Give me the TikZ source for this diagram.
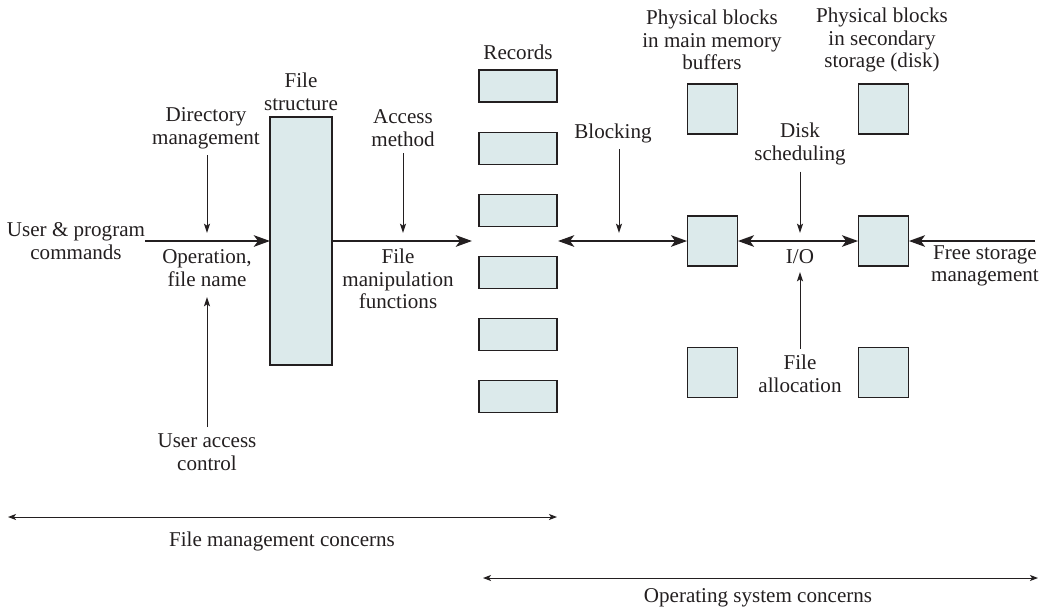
\documentclass[tikz,border=0pt]{standalone}
\usepackage{fontspec}
\setmainfont{Liberation Serif}
\usepackage{xcolor}
\usepackage{tikz}
\usetikzlibrary{arrows.meta,positioning}
\definecolor{blkFill}{HTML}{DCEAEB}
\definecolor{inkGray}{HTML}{231F20}

\begin{document}
\begin{tikzpicture}[
  x=0.75pt, y=-0.75pt,
  font=\fontsize{15.8}{17}\selectfont,
  lbl/.style={align=center, inner sep=1pt, outer sep=4pt, text=inkGray},
  blk/.style={draw=inkGray, fill=blkFill, line width=0.9pt, inner sep=0pt, outer sep=0pt},
  recbox/.style={blk, minimum width=58.5pt, minimum height=24pt},
  physbox/.style={blk, minimum width=38pt, minimum height=37.5pt},
  flow/.style={-{Stealth[length=12pt,width=8.5pt,inset=3pt]}, line width=2.2pt, draw=inkGray},
  biflow/.style={{Stealth[length=12pt,width=8.5pt,inset=3pt]}-{Stealth[length=12pt,width=8.5pt,inset=3pt]}, line width=2.2pt, draw=inkGray},
  feed/.style={-{Stealth[length=7pt,width=4.5pt,inset=1.5pt]}, line width=0.75pt, draw=inkGray},
  span/.style={{Stealth[length=6pt,width=4.5pt,inset=1.5pt]}-{Stealth[length=6pt,width=4.5pt,inset=1.5pt]}, line width=0.75pt, draw=inkGray},
]
\useasboundingbox (0,0) rectangle (1051,608);

% file management side
\node[blk, minimum width=46.5pt, minimum height=186pt] (fstruct) at (301,241) {};
\node[lbl, above=0pt of fstruct] (fstructlbl) {File\\structure};

\node[lbl] (usercmd) at (76,241) {User \& program\\commands};
\node[lbl] (dirmgmt) at (206,128) {Directory\\management};
\node[lbl] (opname) at (207,268) {Operation,\\file name};
\node[lbl] (uaccess) at (207,452) {User access\\control};
\node[lbl] (access) at (403,128) {Access\\method};
\node[lbl] (fmanip) at (398,279) {File\\manipulation\\functions};

\coordinate (cmdin) at (145,241);
\coordinate (dirin) at (207,233);
\coordinate (uacin) at (207,297);
\coordinate (accin) at (403,233);
\coordinate (recin) at (472,241);

\draw[flow] (cmdin) -- (fstruct.west);
\draw[flow] (fstruct.east) -- (recin);
\draw[feed] (dirmgmt.south -| dirin) -- (dirin);
\draw[feed] (uaccess.north) -- (uacin);
\draw[feed] (access.south) -- (accin);

% records
\foreach \i in {0,...,5}
  \node[recbox] (rec\i) at (518,{86+62.1*\i}) {};
\node[lbl, above=-2pt of rec0, yshift=5pt] (reclbl) {Records};

% physical blocks
\foreach \r/\y in {top/109,mid/241,bot/372.5} {
  \node[physbox] (mem\r) at (712.5,\y) {};
  \node[physbox] (disk\r) at (883.5,\y) {};
}
\node[lbl] (memlbl) at (712,40) {Physical blocks\\in main memory\\buffers};
\node[lbl] (disklbl) at (882,40) {Physical blocks\\in secondary\\storage (disk)};

\node[lbl] (blocking) at (613,133) {Blocking};
\node[lbl] (disksched) at (800,144) {Disk\\scheduling};
\node[lbl, inner sep=0pt, outer sep=0pt] (io) at (800,257) {I/O};
\node[lbl] (falloc) at (800,374) {File\\allocation};
\node[lbl] (freestor) at (985,266) {Free storage\\management};

\coordinate (recout) at (558,241);
\coordinate (blkin) at (619,233);
\coordinate (schedin) at (800,233);
\coordinate (allocin) at (800,272);
\coordinate (freein) at (1035,241);

\draw[biflow] (recout) -- (memmid.west);
\draw[biflow] (memmid.east) -- (diskmid.west);
\draw[flow] (freein) -- (diskmid.east);
\draw[feed] (blocking.south -| blkin) -- (blkin);
\draw[feed] (disksched.south) -- (schedin);
\draw[feed] (falloc.north) -- (allocin);

% concerns
\coordinate (fmL) at (8,517);
\coordinate (fmR) at (557,517);
\coordinate (osL) at (483,578);
\coordinate (osR) at (1038,578);
\draw[span] (fmL) -- (fmR);
\draw[span] (osL) -- (osR);
\node[lbl] (fmlbl) at (282,541) {File management concerns};
\node[lbl] (oslbl) at (758,598) {Operating system concerns};
\end{tikzpicture}
\end{document}
